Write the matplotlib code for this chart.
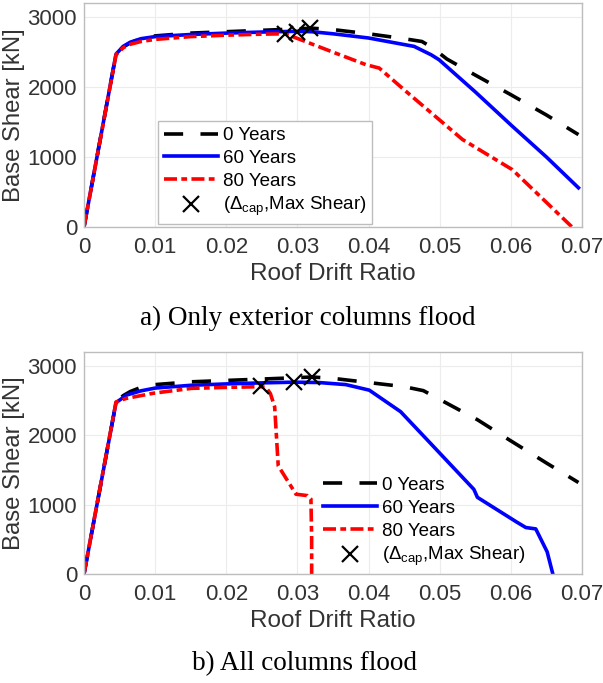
import matplotlib
matplotlib.use("Agg")
import matplotlib.pyplot as plt

plt.rcParams['font.family'] = ['Liberation Sans', 'DejaVu Sans']
plt.rcParams['mathtext.fontset'] = 'custom'
plt.rcParams['mathtext.rm'] = 'Liberation Sans'
plt.rcParams['mathtext.it'] = 'Liberation Sans:italic'

# ---------------- data: a) Only exterior columns flood ----------------
drift_a_0 = [0, 0.0045, 0.0055, 0.0065, 0.008, 0.01, 0.015, 0.02, 0.025, 0.03, 0.032,
             0.035, 0.04, 0.045, 0.0475, 0.049, 0.051, 0.055, 0.06, 0.065, 0.0695]
shear_a_0 = [0, 2470, 2570, 2630, 2690, 2730, 2770, 2790, 2810, 2830, 2840,
             2820, 2760, 2690, 2650, 2560, 2400, 2170, 1890, 1600, 1320]

drift_a_60 = [0, 0.0045, 0.0055, 0.0065, 0.008, 0.01, 0.015, 0.02, 0.025, 0.0297, 0.032,
              0.035, 0.04, 0.0464, 0.0488, 0.0499, 0.055, 0.0602, 0.065, 0.0695]
shear_a_60 = [0, 2470, 2580, 2640, 2690, 2720, 2750, 2770, 2785, 2795, 2790,
              2760, 2700, 2580, 2460, 2390, 1930, 1440, 1000, 560]

drift_a_80 = [0, 0.0045, 0.0055, 0.0065, 0.008, 0.01, 0.015, 0.02, 0.025, 0.0283, 0.0292,
              0.0352, 0.0396, 0.0415, 0.045, 0.0532, 0.0602, 0.0686]
shear_a_80 = [0, 2460, 2560, 2610, 2650, 2680, 2720, 2740, 2755, 2760, 2725,
              2490, 2320, 2270, 1960, 1250, 820, 0]

cap_drift_a = [0.0283, 0.0299, 0.0318]
cap_shear_a = [2760, 2790, 2840]

# ---------------- data: b) All columns flood ----------------
drift_b_0 = [0, 0.0045, 0.0055, 0.0065, 0.008, 0.01, 0.015, 0.02, 0.025, 0.03, 0.032,
             0.035, 0.04, 0.045, 0.0477, 0.0553, 0.0597, 0.065, 0.0695]
shear_b_0 = [0, 2470, 2570, 2630, 2690, 2730, 2770, 2790, 2810, 2830, 2840,
             2820, 2760, 2700, 2643, 2224, 1938, 1600, 1319]

drift_b_60 = [0, 0.0045, 0.006, 0.008, 0.01, 0.015, 0.02, 0.025, 0.0295, 0.033, 0.0368,
              0.0401, 0.0445, 0.048, 0.0548, 0.0553, 0.0608, 0.0621, 0.0635, 0.0651, 0.0659]
shear_b_60 = [0, 2470, 2580, 2640, 2680, 2720, 2740, 2755, 2765, 2760, 2730,
              2650, 2340, 1960, 1220, 1105, 750, 670, 650, 320, 0]

drift_b_80 = [0, 0.0045, 0.0059, 0.0097, 0.0151, 0.02, 0.0249, 0.0256, 0.0262, 0.0268,
              0.0273, 0.0298, 0.0314, 0.0319, 0.032, 0.032]
shear_b_80 = [0, 2480, 2530, 2605, 2676, 2690, 2700, 2690, 2600, 2410,
              1560, 1150, 1130, 1080, 500, 0]

cap_drift_b = [0.0249, 0.0295, 0.0320]
cap_shear_b = [2710, 2770, 2843]

x_ticks = [0, 0.01, 0.02, 0.03, 0.04, 0.05, 0.06, 0.07]
x_tick_labels = ['0', '0.01', '0.02', '0.03', '0.04', '0.05', '0.06', '0.07']
y_ticks = [0, 1000, 2000, 3000]
y_tick_labels = ['0', '1000', '2000', '3000']
series_labels = ['0 Years', '60 Years', '80 Years', r'($\Delta_{\mathrm{cap}}$,Max Shear)']
captions = ['a) Only exterior columns flood', 'b) All columns flood']

W, H = 603, 683
fig = plt.figure(figsize=(W / 100, H / 100), dpi=100)

LW = 2.6
black_ls = (0, (5.3, 4.8))
red_ls = (0, (3.6, 1.2, 1.6, 1.2))
tick_col = '#333333'
spine_col = '#bdbdbd'


def make_axes(top_px, bot_px):
    left, right = 84, 582
    return fig.add_axes([left / W, 1 - bot_px / H, (right - left) / W, (bot_px - top_px) / H])


def draw(ax, d0, s0, d60, s60, d80, s80, cd, cs, legend_frame, legend_anchor):
    ax.plot(d0, s0, color='black', lw=LW, ls=black_ls, label=series_labels[0])
    ax.plot(d60, s60, color='#0000ff', lw=LW, ls='-', label=series_labels[1])
    ax.plot(d80, s80, color='#ff0000', lw=LW, ls=red_ls, label=series_labels[2])
    ax.plot(cd, cs, ls='none', marker='x', ms=12, mew=1.6, color='black',
            label=series_labels[3])
    ax.set_xlim(0, 0.07)
    ax.set_ylim(0, 3200)
    ax.set_xticks(x_ticks)
    ax.set_xticklabels(x_tick_labels)
    ax.set_yticks(y_ticks)
    ax.set_yticklabels(y_tick_labels)
    ax.tick_params(length=0, labelsize=16, colors=tick_col)
    ax.tick_params(axis='x', pad=7)
    ax.tick_params(axis='y', pad=5)
    ax.grid(True, color='#ececec', lw=0.8)
    ax.set_axisbelow(True)
    for sp in ax.spines.values():
        sp.set_color(spine_col)
        sp.set_linewidth(1.0)
    ax.set_xlabel('Roof Drift Ratio', fontsize=17.5, color=tick_col, labelpad=4)
    ax.set_ylabel('Base Shear [kN]', fontsize=17.2, color=tick_col, labelpad=2)
    leg = ax.legend(loc='lower left', bbox_to_anchor=legend_anchor, fontsize=13.5,
                    frameon=legend_frame, fancybox=False, framealpha=1,
                    edgecolor=spine_col, handlelength=2.9, handletextpad=0.25,
                    labelspacing=0.3, borderpad=0.3, borderaxespad=0)
    for t in leg.get_texts():
        t.set_color('black')
    leg.get_frame().set_linewidth(1.0)


ax1 = make_axes(3, 227)
draw(ax1, drift_a_0, shear_a_0, drift_a_60, shear_a_60, drift_a_80, shear_a_80,
     cap_drift_a, cap_shear_a, True, (0.149, 0.013))
ax2 = make_axes(352, 574)
draw(ax2, drift_b_0, shear_b_0, drift_b_60, shear_b_60, drift_b_80, shear_b_80,
     cap_drift_b, cap_shear_b, False, (0.468, 0.0))

fig.text(308 / W, 1 - 318 / H, captions[0], ha='center', va='center',
         family='Liberation Serif', fontsize=19.5, color='black')
fig.text(305 / W, 1 - 664 / H, captions[1], ha='center', va='center',
         family='Liberation Serif', fontsize=19.5, color='black')

fig.savefig('out.png', dpi=100)
